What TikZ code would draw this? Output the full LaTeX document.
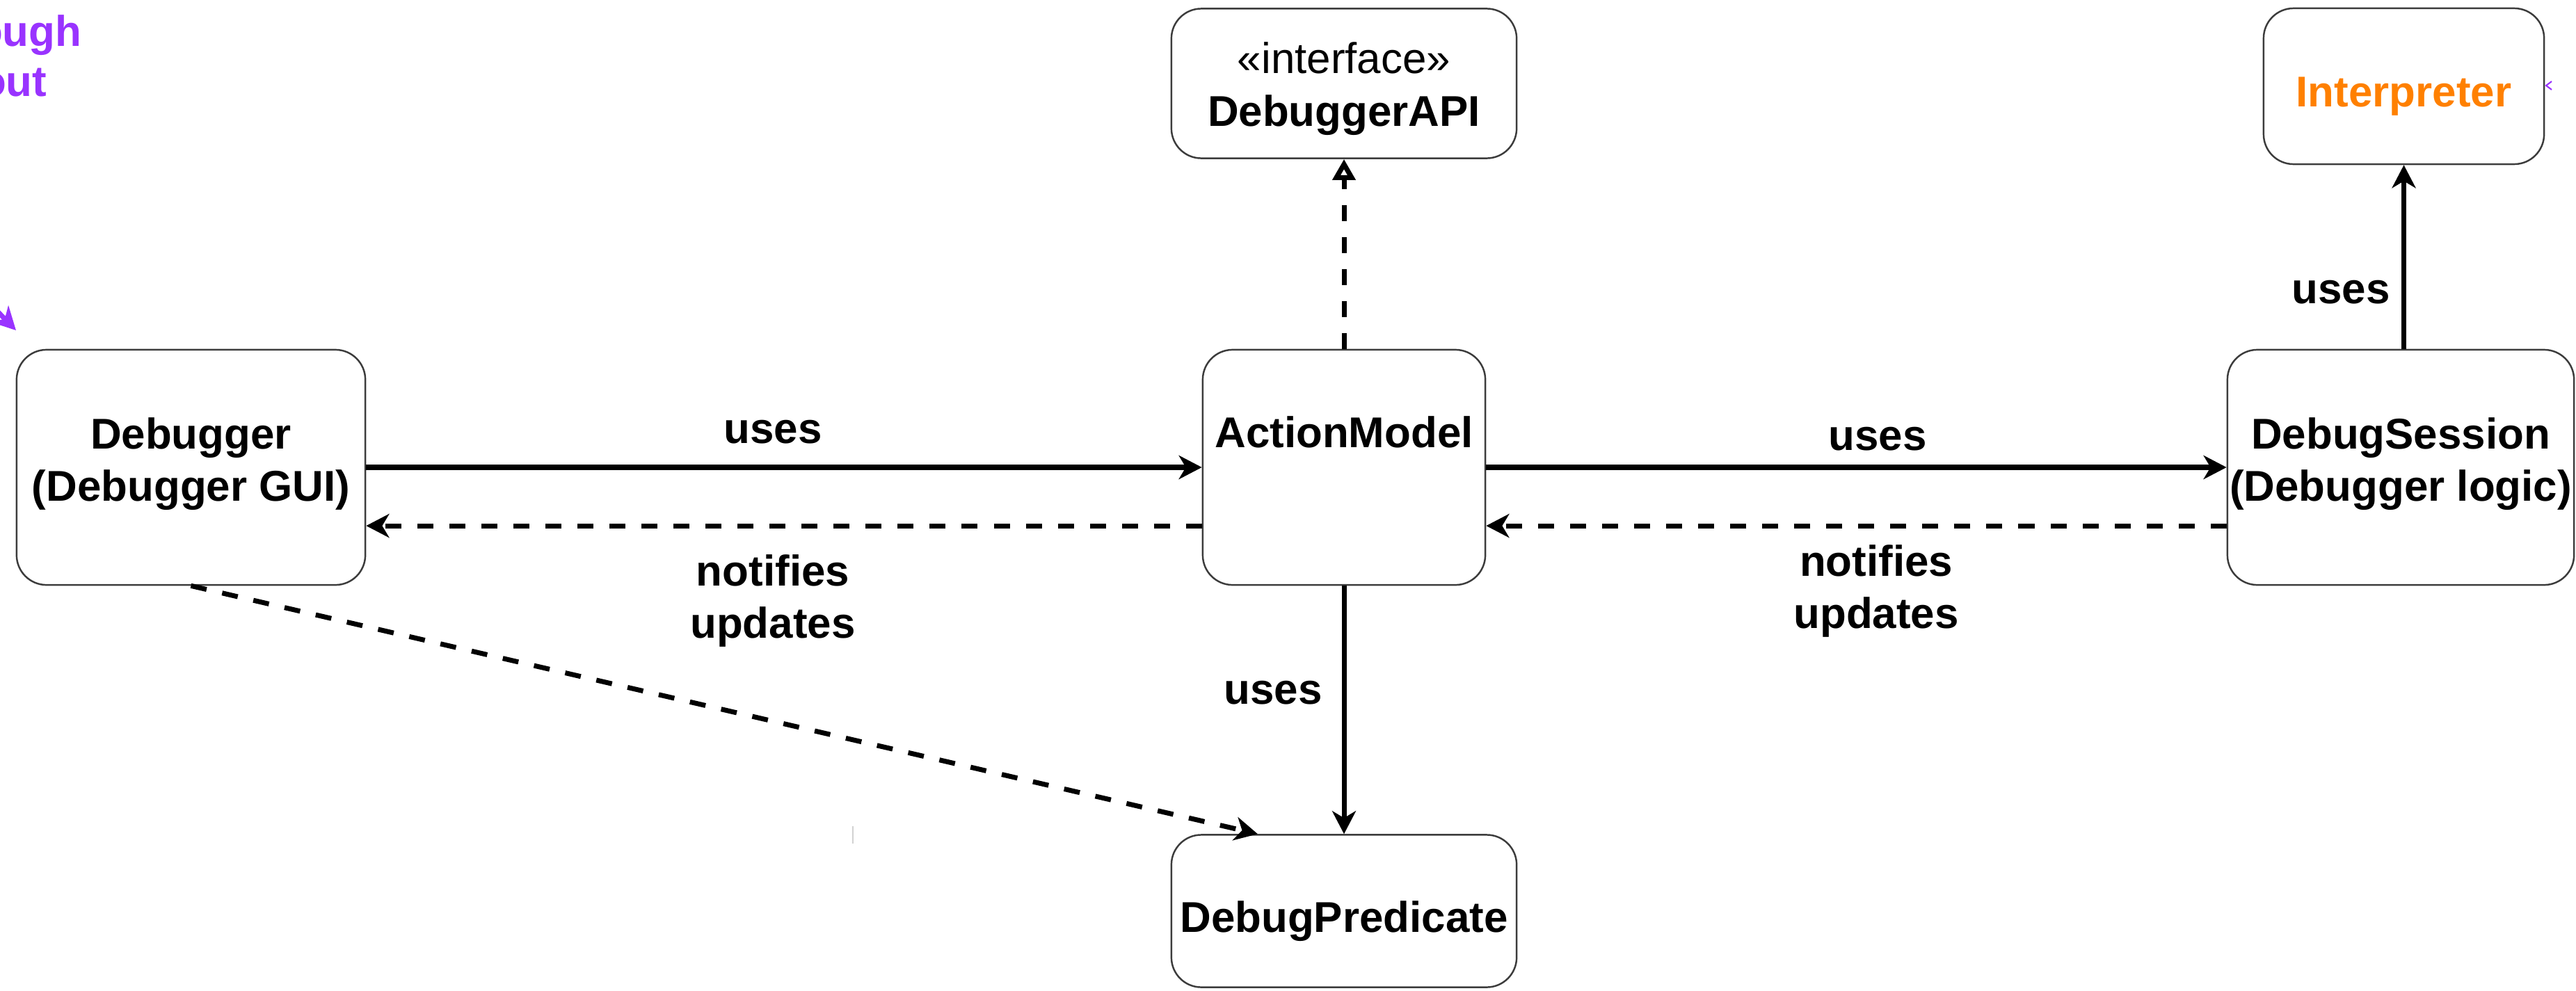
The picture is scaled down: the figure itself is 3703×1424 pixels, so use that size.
\documentclass[tikz,border=0pt]{standalone}
\usepackage{fontspec}
\setmainfont{Liberation Sans}
\usetikzlibrary{arrows.meta,calc}
\definecolor{purp}{HTML}{9933FF}
\definecolor{orng}{HTML}{FF8000}
\definecolor{boxline}{HTML}{3C3C3C}
\tikzset{
  box/.style={draw=boxline, line width=0.7pt, rounded corners=0.43cm, fill=white, inner sep=0pt},
  lbl/.style={font=\fontsize{17.6}{21}\selectfont\bfseries, anchor=base, inner sep=0pt},
  plainlbl/.style={font=\fontsize{17.6}{21}\selectfont, anchor=base, inner sep=0pt},
  conn/.style={line width=2pt, -{Stealth[length=0.33cm,width=0.34cm,inset=0.1cm]}},
  dconn/.style={conn, dash pattern=on 0.23cm off 0.23cm},
  realize/.style={line width=2pt, dash pattern=on 0.23cm off 0.23cm, -{Triangle[open,length=0.3cm,width=0.32cm,line width=2pt]}},
}
\begin{document}
\begin{tikzpicture}[x=0.01cm,y=-0.01cm]
\useasboundingbox (0,0) rectangle (3703,1424);
\clip (0,0) rectangle (3703,1424);
\fill[white] (0,0) rectangle (3703,1424);

% boxes
\node[box, minimum width=5.01cm, minimum height=3.38cm] (dbg) at (274.5,672) {};
\node[box, minimum width=4.06cm, minimum height=3.38cm] (am) at (1932,672) {};
\node[box, minimum width=4.98cm, minimum height=3.38cm] (ds) at (3451,672) {};
\node[box, minimum width=4.96cm, minimum height=2.15cm] (api) at (1932,120) {};
\node[box, minimum width=4.03cm, minimum height=2.24cm] (interp) at (3455.5,124) {};
\node[box, minimum width=4.96cm, minimum height=2.19cm] (pred) at (1932,1310) {};

% box texts
\node[lbl] (t1) at (274.5,645) {Debugger};
\node[lbl] (t2) at (274.5,720) {(Debugger GUI)};
\node[lbl] (t3) at (1932,643) {ActionModel};
\node[lbl] (t4) at (3451,645) {DebugSession};
\node[lbl] (t5) at (3451,720) {(Debugger logic)};
\node[plainlbl] (t6) at (1932,105) {«interface»};
\node[lbl] (t7) at (1932,181) {DebuggerAPI};
\node[lbl, text=orng] (t8) at (3455.5,153) {Interpreter};
\node[lbl] (t9) at (1932,1340) {DebugPredicate};

% connectors
\draw[conn] (dbg.east) -- (am.west);
\draw[dconn] ([yshift=-0.84cm]am.west) -- ([yshift=-0.84cm]dbg.east);
\draw[conn] (am.east) -- (ds.west);
\draw[dconn] ([yshift=-0.84cm]ds.west) -- ([yshift=-0.84cm]am.east);
\draw[realize] (am.north) -- (api.south);
\draw[conn] (am.south) -- (pred.north);
\draw[conn] (interp.south |- ds.north) -- (interp.south);
\draw[dconn] (dbg.south) -- ([xshift=-1.24cm]pred.north);

% connector labels
\node[lbl] (l1) at (1111,637) {uses};
\node[lbl] (l2) at (1111,842) {notifies};
\node[lbl] (l3) at (1111,917) {updates};
\node[lbl] (l4) at (2699,647) {uses};
\node[lbl] (l5) at (2697,828) {notifies};
\node[lbl] (l6) at (2697,903) {updates};
\node[lbl] (l7) at (3365,436) {uses};
\node[lbl] (l8) at (1830,1012) {uses};

% purple fragments at the edge
\node[lbl, text=purp, anchor=base east] (p1) at (118,67) {through};
\node[lbl, text=purp, anchor=base east] (p2) at (68,138) {about};
\coordinate (pstart) at (-60,390);
\coordinate (ptip) at (23,475);
\draw[purp, line width=2pt, -{Stealth[length=0.33cm,width=0.34cm,inset=0.1cm]}] (pstart) -- (ptip);
\draw[purp, line width=0.6pt] (3668,117) -- (3660,123) -- (3668,129);

% faint stray mark
\draw[gray!35, line width=0.4pt] (1226,1188) -- (1226,1213);
\end{tikzpicture}
\end{document}
